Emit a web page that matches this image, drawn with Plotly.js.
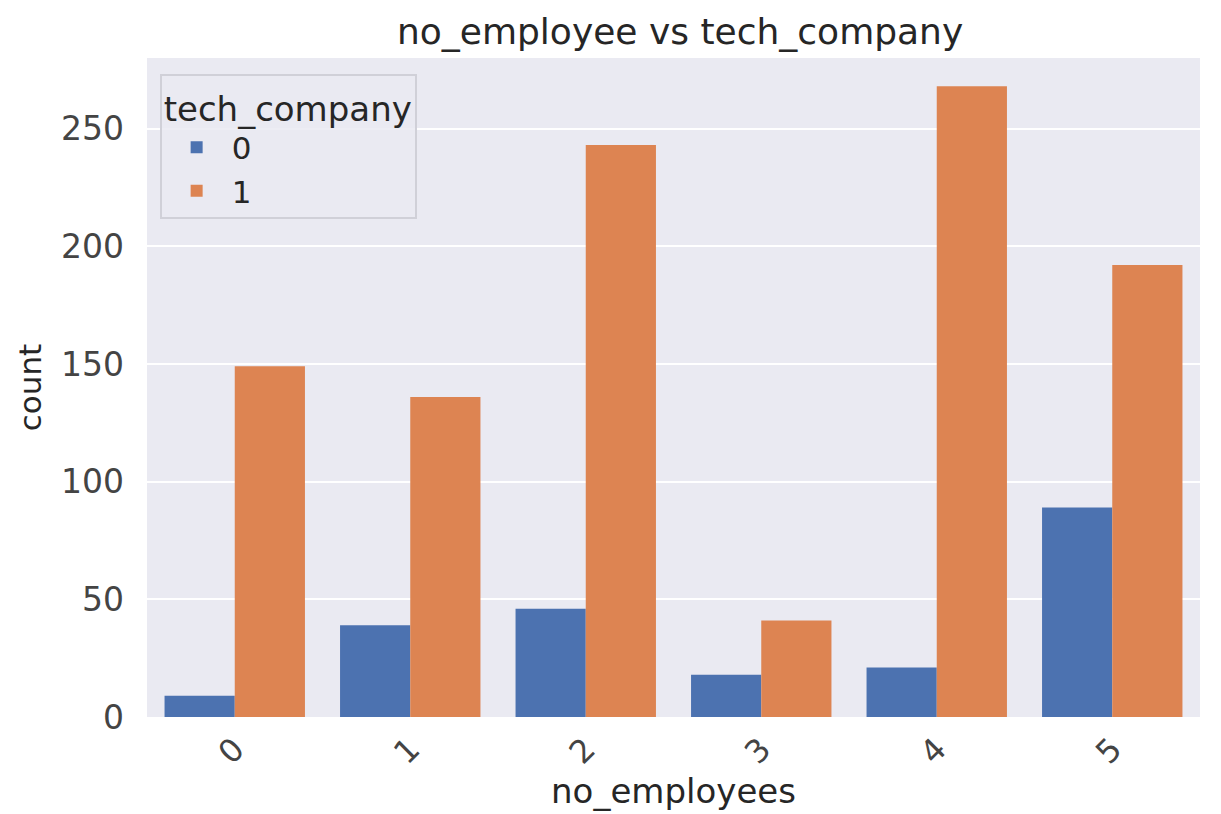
<!DOCTYPE html>
<html>
<head>
<meta charset="utf-8">
<script src="https://cdn.plot.ly/plotly-3.0.1.min.js"></script>
<style>html,body{margin:0;padding:0;background:#fff;}#chart{width:1221px;height:814px;}</style>
</head>
<body>
<div id="chart"></div>
<script>
const categories = ["0", "1", "2", "3", "4", "5"];
const techCompany0 = [9, 39, 46, 18, 21, 89];
const techCompany1 = [149, 136, 243, 41, 268, 192];
const seriesNames = ["0", "1"];
const yTicks = [0, 50, 100, 150, 200, 250];

const font = "DejaVu Sans, sans-serif";
const txt = "#262626";

const traces = [
  {type: "bar", name: seriesNames[0], x: categories, y: techCompany0, marker: {color: "#4C72B0"}},
  {type: "bar", name: seriesNames[1], x: categories, y: techCompany1, marker: {color: "#DD8452"}}
];

const layout = {
  width: 1221, height: 814,
  margin: {l: 147, r: 21, t: 58, b: 97},
  paper_bgcolor: "#ffffff",
  plot_bgcolor: "#EAEAF2",
  barmode: "group",
  bargap: 0.2,
  bargroupgap: 0,
  font: {family: font, color: txt},
  title: {text: "no_employee vs tech_company", font: {family: font, size: 36, color: txt}, x: 0.557, xanchor: "center", y: 0.962, yanchor: "middle"},
  xaxis: {
    type: "category",
    categoryorder: "array", categoryarray: categories,
    tickangle: -45,
    tickfont: {family: font, size: 32, color: "#444"},
    showgrid: false, zeroline: false, showline: false, ticks: "",
    ticklabelstandoff: 6,
    title: {text: "no_employees", font: {family: font, size: 34, color: txt}, standoff: 2}
  },
  yaxis: {
    range: [0, 280],
    tickvals: yTicks,
    tickfont: {family: font, size: 33, color: "#444"},
    gridcolor: "#ffffff", gridwidth: 2,
    zeroline: false, showline: false, ticks: "",
    ticklabelstandoff: 22,
    title: {text: "count", font: {family: font, size: 31, color: txt}, standoff: 10}
  },
  legend: {
    x: 0.012, y: 0.975, xanchor: "left", yanchor: "top",
    bgcolor: "rgba(234,234,242,0.85)",
    bordercolor: "#d0d0d8", borderwidth: 2,
    font: {family: font, size: 31, color: txt},
    title: {text: "tech_company", side: "top", font: {family: font, size: 34, color: txt}},
    itemwidth: 60
  },
  showlegend: true
};

Plotly.newPlot("chart", traces, layout, {displayModeBar: false, staticPlot: true});
</script>
</body>
</html>
